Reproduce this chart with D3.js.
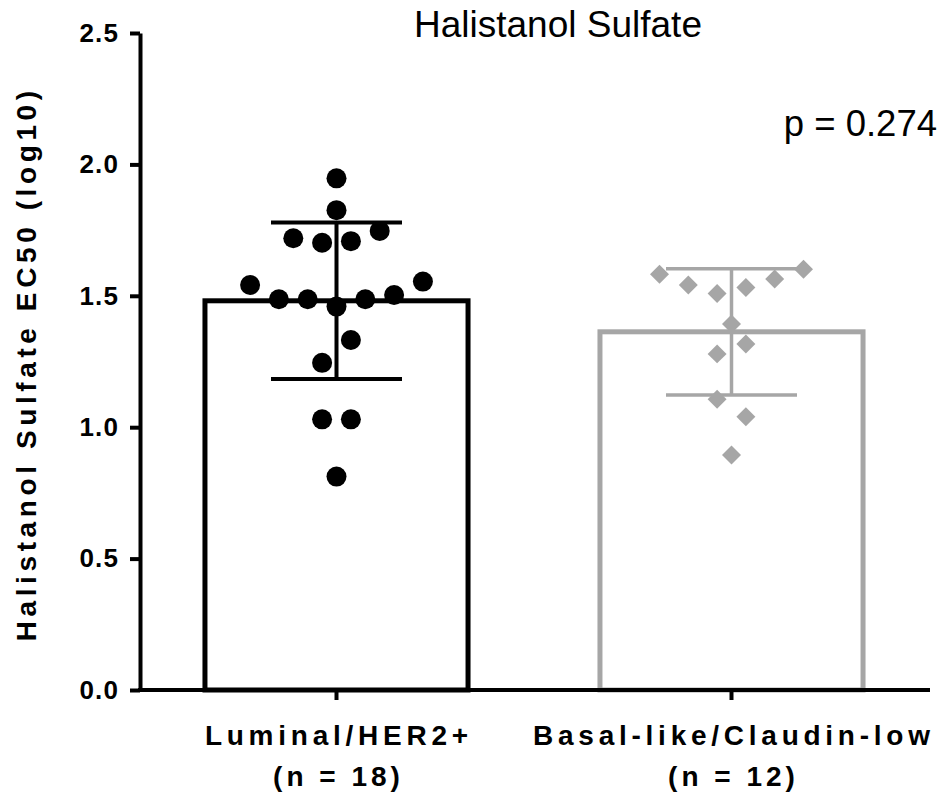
<!DOCTYPE html>
<html><head><meta charset="utf-8">
<script src="https://cdn.jsdelivr.net/npm/d3@7"></script>
<style>body{margin:0;background:#fff}svg{display:block}text{font-family:"Liberation Sans",Arial,sans-serif}</style></head>
<body><svg id="c" width="945" height="793"></svg>
<script>
const categories = ["Luminal/HER2+", "Basal-like/Claudin-low"];
const countLabels = ["(n = 18)", "(n = 12)"];
const means = [1.481, 1.363];
const sds = [0.298, 0.24];
const luminalValues = [1.947, 1.826, 1.719, 1.702, 1.708, 1.747, 1.541, 1.554, 1.487, 1.487, 1.459, 1.487, 1.503, 1.332, 1.245, 1.030, 1.030, 0.812];
const luminalSlots  = [0, 0, -3, -1, 1, 3, -6, 6, -4, -2, 0, 2, 4, 1, -1, -1, 1, 0];
const basalValues = [1.582, 1.541, 1.509, 1.532, 1.564, 1.601, 1.393, 1.317, 1.279, 1.106, 1.040, 0.894];
const basalSlots  = [-5, -3, -1, 1, 3, 5, 0, 1, -1, -1, 1, 0];
const yTicks = [0, 0.5, 1.0, 1.5, 2.0, 2.5];
const titleText = "Halistanol Sulfate";
const pText = "p = 0.274";
const yLabelText = "Halistanol Sulfate EC50 (log10)";

const colors = ["#000000", "#a6a6a6"];
const svg = d3.select("#c");
const y = d3.scaleLinear().domain([0, 2.5]).range([690, 33]);
const x = d3.scaleBand().domain(categories).range([139, 929]).paddingInner(0.334).paddingOuter(0.167);
const slotW = 14.4;

const groups = categories.map((c, i) => ({c, i, mean: means[i], sd: sds[i],
  values: i === 0 ? luminalValues : basalValues, slots: i === 0 ? luminalSlots : basalSlots}));

// bars
svg.selectAll("rect.bar").data(groups).join("rect")
  .attr("x", d => x(d.c)).attr("width", x.bandwidth())
  .attr("y", d => y(d.mean)).attr("height", d => y(0) - y(d.mean))
  .attr("fill", "none").attr("stroke", d => colors[d.i]).attr("stroke-width", 5);

// error bars
const capHalf = 65.5;
groups.forEach(g => {
  const cx = x(g.c) + x.bandwidth() / 2;
  const sw = g.i === 0 ? 4 : 3.5;
  const eg = svg.append("g").attr("stroke", colors[g.i]).attr("stroke-width", sw);
  eg.append("line").attr("x1", cx).attr("x2", cx).attr("y1", y(g.mean + g.sd)).attr("y2", y(g.mean - g.sd));
  eg.append("line").attr("x1", cx - capHalf).attr("x2", cx + capHalf).attr("y1", y(g.mean + g.sd)).attr("y2", y(g.mean + g.sd));
  eg.append("line").attr("x1", cx - capHalf).attr("x2", cx + capHalf).attr("y1", y(g.mean - g.sd)).attr("y2", y(g.mean - g.sd));
});

// points
groups.forEach(g => {
  const cx = x(g.c) + x.bandwidth() / 2;
  const pts = g.values.map((v, k) => ({v, s: g.slots[k]}));
  if (g.i === 0) {
    svg.append("g").selectAll("circle").data(pts).join("circle")
      .attr("cx", d => cx + d.s * slotW).attr("cy", d => y(d.v)).attr("r", 10).attr("fill", colors[0]);
  } else {
    const sym = d3.symbol().type(d3.symbolSquare).size(180);
    svg.append("g").selectAll("path").data(pts).join("path")
      .attr("d", sym).attr("fill", colors[1])
      .attr("transform", d => `translate(${cx + d.s * slotW},${y(d.v)}) rotate(45)`);
  }
});

// y axis
const tickLs = 1.2;
const yAxis = svg.append("g").attr("transform", "translate(140,0)")
  .call(d3.axisLeft(y).tickValues(yTicks).tickFormat(d3.format(".1f")).tickSize(10).tickSizeOuter(0).tickPadding(12));
yAxis.select(".domain").attr("stroke-width", 4);
yAxis.selectAll(".tick line").attr("stroke-width", 4);
yAxis.selectAll(".tick text").attr("font-size", 26).attr("font-weight", "bold")
  .attr("fill", "#000").style("letter-spacing", tickLs + "px").attr("dx", tickLs);

// x axis
const xAxis = svg.append("g").attr("transform", "translate(0,690)")
  .call(d3.axisBottom(x).tickSize(10).tickSizeOuter(0).tickFormat(""));
xAxis.select(".domain").attr("stroke-width", 4).attr("d", "M138,0H930");
xAxis.selectAll(".tick line").attr("stroke-width", 4);

// x labels
const catLs = 4.75;
svg.append("g").selectAll("text").data(categories).join("text")
  .attr("x", d => x(d) + x.bandwidth() / 2).attr("dx", catLs / 2).attr("y", 745)
  .attr("text-anchor", "middle").attr("font-size", 28).attr("font-weight", "bold")
  .style("letter-spacing", catLs + "px").text(d => d);
svg.append("g").selectAll("text").data(countLabels).join("text")
  .attr("x", (d, i) => x(categories[i]) + x.bandwidth() / 2).attr("dx", 2).attr("y", 786)
  .attr("text-anchor", "middle").attr("font-size", 28).attr("font-weight", "bold")
  .style("letter-spacing", "4px").text(d => d);

// y label
const yLs = 4.6;
svg.append("text").attr("transform", `translate(36,${361.5 + yLs / 2}) rotate(-90)`)
  .attr("text-anchor", "middle").attr("font-size", 28).attr("font-weight", "bold")
  .style("letter-spacing", yLs + "px").text(yLabelText);

// title and p
svg.append("text").attr("x", 558).attr("y", 37).attr("text-anchor", "middle")
  .attr("font-size", 37).text(titleText);
svg.append("text").attr("x", 937).attr("y", 136).attr("text-anchor", "end")
  .attr("font-size", 36.5).text(pText);
</script></body></html>
